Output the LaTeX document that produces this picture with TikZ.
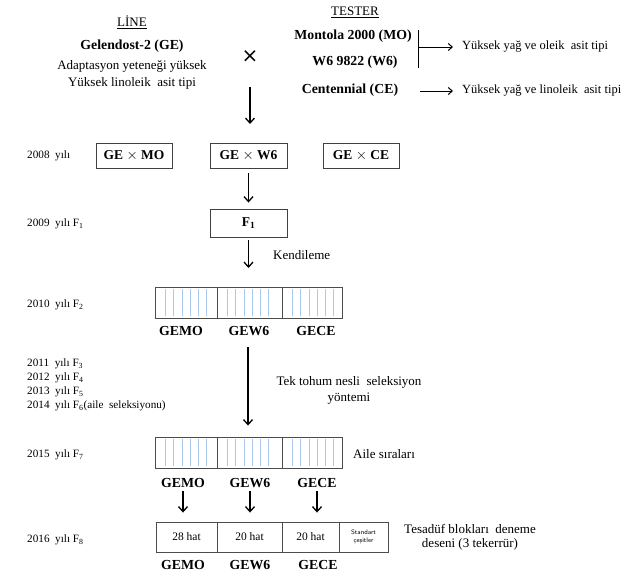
\documentclass[tikz,border=0pt]{standalone}
\usepackage{fontspec}
\setmainfont{Liberation Serif}
\newfontfamily\djvfont{DejaVu Sans}
\usetikzlibrary{arrows.meta}
\definecolor{stripeblue}{HTML}{A9C8EC}
\begin{document}
\begin{tikzpicture}[x=1pt,y=-1pt,
  txt/.style={font=\fontsize{13}{15}\selectfont, inner sep=0pt},
  rtxt/.style={font=\fontsize{12.5}{14}\selectfont, inner sep=0pt, anchor=west},
  btxt/.style={font=\fontsize{13.8}{15}\selectfont\bfseries, inner sep=0pt},
  yr/.style={font=\fontsize{11.2}{13}\selectfont, inner sep=0pt, anchor=west},
  crossbox/.style={draw=black!75, line width=0.9pt, minimum height=25pt, inner sep=0pt, font=\fontsize{13.5}{15}\selectfont\bfseries},
  cell/.style={draw=black!70, line width=0.9pt, inner sep=0pt},
  stripe/.style={draw=stripeblue, line width=0.55pt},
  arr/.style={-{Straight Barb[length=5pt,width=9pt]}, line width=1.3pt},
  thinarr/.style={-{Straight Barb[length=4pt,width=7pt]}, line width=1pt},
  hat/.style={font=\fontsize{11.5}{13}\selectfont}
]
\useasboundingbox (0,0) rectangle (638,576);

% LINE side
\node[txt] (line) at (132,22) {\underline{LİNE}};
\node[btxt] (ge) at (132,46) {Gelendost-2 (GE)};
\node[txt] (ad) at (132,66) {Adaptasyon yeteneği yüksek};
\node[txt] (li) at (132,83) {Yüksek linoleik\ \ asit tipi};
\node[font=\fontsize{20}{20}\selectfont\djvfont, inner sep=0pt] (cross) at (250,57) {×};
\coordinate (a1s) at (250,87);
\coordinate (a1e) at (250,124);
\draw[arr] (a1s) -- (a1e);

% TESTER side
\node[txt] (tester) at (355,12) {\underline{TESTER}};
\node[btxt] (mo) at (353,36) {Montola 2000 (MO)};
\node[btxt] (w6) at (355,62) {W6 9822 (W6)};
\node[btxt] (ce) at (350,90) {Centennial (CE)};
\coordinate (bt) at (418,30);
\coordinate (bb) at (418,68);
\coordinate (bm) at (418,47);
\coordinate (cs) at (420,91);
\draw[line width=1pt] (bt) -- (bb);
\node[rtxt] (ol) at (462,47) {Yüksek yağ ve oleik\ \ asit tipi};
\node[rtxt] (ln) at (462,91) {Yüksek yağ ve linoleik\ \ asit tipi};
\draw[thinarr, shorten >=9pt] (bm) -- (ol.west);
\draw[thinarr, shorten >=9pt] (cs) -- (ln.west);

% 2008
\node[yr] (y2008) at (27,156) {2008\ \ yılı};
\node[crossbox, minimum width=76pt] (gemo) at (134,155.5) {GE $\times$ MO};
\node[crossbox, minimum width=77pt] (gew6) at (248.5,155.5) {GE $\times$ W6};
\node[crossbox, minimum width=76pt] (gece) at (361,155.5) {GE $\times$ CE};

% 2009
\node[yr] (y2009) at (27,224) {2009\ \ yılı F\textsubscript{1}};
\node[crossbox, minimum width=77pt, minimum height=28pt] (f1) at (248.5,223) {F\textsubscript{1}};
\draw[arr, shorten <=5pt, shorten >=6pt] (gew6.south) -- (f1.north);
\coordinate (ke) at (248.5,268);
\draw[arr, shorten <=3pt] (f1.south) -- (ke);
\node[txt, anchor=west] (kend) at (273,255) {Kendileme};

% 2010
\node[yr] (y2010) at (27,305) {2010\ \ yılı F\textsubscript{2}};
\node[cell, minimum width=62pt, minimum height=31pt] (c1) at (186,302.5) {};
\node[cell, minimum width=65pt, minimum height=31pt] (c2) at (249.5,302.5) {};
\node[cell, minimum width=60pt, minimum height=31pt] (c3) at (312,302.5) {};
\foreach \c in {c1,c2,c3}{
  \foreach \k in {0,...,5}{
    \draw[stripe] ([xshift={(11+\k*8.2)*1pt}, yshift=-2pt]\c.north west) -- ([xshift={(11+\k*8.2)*1pt}, yshift=2pt]\c.south west);
  }
}
\node[btxt] (l1a) at (181,331) {GEMO};
\node[btxt] (l1b) at (249,331) {GEW6};
\node[btxt] (l1c) at (316,331) {GECE};

% 2011-2014
\node[yr] (y2011) at (27,364) {2011\ \ yılı F\textsubscript{3}};
\node[yr] (y2012) at (27,378) {2012\ \ yılı F\textsubscript{4}};
\node[yr] (y2013) at (27,392) {2013\ \ yılı F\textsubscript{5}};
\node[yr] (y2014) at (27,406) {2014\ \ yılı F\textsubscript{6}(aile\ \ seleksiyonu)};
\node[txt, align=center] (tek) at (349,390) {Tek tohum nesli\ \ seleksiyon\\[1pt]yöntemi};

% 2015
\node[yr] (y2015) at (27,455) {2015\ \ yılı F\textsubscript{7}};
\node[cell, minimum width=62pt, minimum height=31pt] (d1) at (186,452.5) {};
\node[cell, minimum width=65pt, minimum height=31pt] (d2) at (249.5,452.5) {};
\node[cell, minimum width=60pt, minimum height=31pt] (d3) at (312,452.5) {};
\foreach \c in {d1,d2,d3}{
  \foreach \k in {0,...,5}{
    \draw[stripe] ([xshift={(11+\k*8.2)*1pt}, yshift=-2pt]\c.north west) -- ([xshift={(11+\k*8.2)*1pt}, yshift=2pt]\c.south west);
  }
}
\coordinate (ts) at (248,347);
\draw[arr, shorten >=11pt] (ts) -- (ts |- d2.north);
\node[txt, anchor=west] (aile) at (353,454) {Aile sıraları};
\node[btxt] (l2a) at (183,483) {GEMO};
\node[btxt] (l2b) at (250,483) {GEW6};
\node[btxt] (l2c) at (317,483) {GECE};

% 2016
\node[yr] (y2016) at (27,540) {2016\ \ yılı F\textsubscript{8}};
\node[cell, minimum width=61pt, minimum height=30pt, hat] (b1) at (186.5,537) {28 hat};
\node[cell, minimum width=65pt, minimum height=30pt, hat] (b2) at (249.5,537) {20 hat};
\node[cell, minimum width=57pt, minimum height=30pt, hat] (b3) at (310.5,537) {20 hat};
\node[cell, minimum width=49pt, minimum height=30pt, font=\fontsize{6.5}{8}\selectfont\sffamily, align=center] (b4) at (363.5,537) {Standart\\çeşitler};
\draw[arr, shorten <=3pt, shorten >=9pt] (l2a.south) -- (l2a.south |- b1.north);
\draw[arr, shorten <=3pt, shorten >=9pt] (l2b.south) -- (l2b.south |- b2.north);
\draw[arr, shorten <=3pt, shorten >=9pt] (l2c.south) -- (l2c.south |- b3.north);
\node[txt, align=center] (tes) at (470,537.5) {Tesadüf blokları\ \ deneme\\[-1pt]deseni (3 tekerrür)};
\node[btxt] (l3a) at (183,565) {GEMO};
\node[btxt] (l3b) at (250,565) {GEW6};
\node[btxt] (l3c) at (318,565) {GECE};
\end{tikzpicture}
\end{document}
